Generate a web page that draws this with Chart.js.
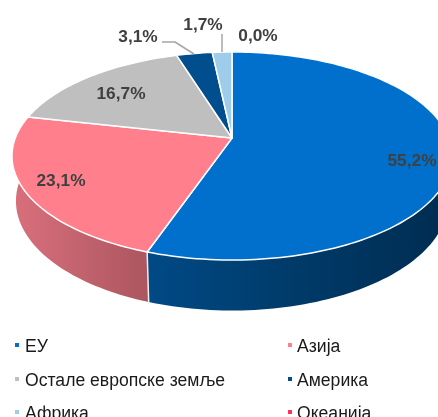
<!DOCTYPE html>
<html><head><meta charset="utf-8">
<script src="https://cdn.jsdelivr.net/npm/chart.js@4/dist/chart.umd.min.js"></script>
<style>
html,body{margin:0;padding:0;background:#fff;width:438px;height:417px;overflow:hidden}
#wrap{position:relative;width:438px;height:417px;overflow:hidden}
canvas{position:absolute;left:0;top:0}
.lg{position:absolute;font:17.6px "Liberation Sans",Arial,sans-serif;color:#1a1a1a;white-space:nowrap;line-height:20px}
.mk{position:absolute;width:4px;height:4px}
</style></head><body>
<div id="wrap"><canvas id="c" width="438" height="417"></canvas></div>
<script>
const categories=["ЕУ","Азија","Остале европске земље","Америка","Африка","Океанија"];
const values=[55.2,23.1,16.7,3.1,1.7,0.0];
const colors=["#0070CC","#FF808C","#BFBFBF","#004E8E","#9DCDEA","#FF3355"];
const sideFrom=["#004A86","#D9707C","#A0A0A0","#003A6A","#7AA8C4","#CC2844"];
const sideTo=["#002C50","#AC5660","#808080","#002C50","#7AA8C4","#CC2844"];
const labelText=["55,2%","23,1%","16,7%","3,1%","1,7%","0,0%"];
const labelPos=[[412,161],[61,181],[121,94],[138,37],[203,25],[258,36]];
const leaders=[[[162,42],[175,42],[194,54]],[[222,34],[222,52]]];
const legendPos=[[15,25,345],[288,297,345],[15,25,379],[288,297,379],[15,25,412],[288,297,412]];
const view={x0:232,y0:138,c:216.7,a:100.9,p:-0.173,topCy:156,topRy:104,botCy:201,botRy:109.5,botSx:0.982};

function proj(t){
  const u=Math.cos(t),v=Math.sin(t),w=1+view.p*v;
  return [view.x0+view.c*u/w, view.y0+view.a*v/w];
}
function projBottom(t){
  const p=proj(t);
  return [view.x0+(p[0]-view.x0)*view.botSx, view.botCy+(p[1]-view.topCy)*view.botRy/view.topRy];
}
const pie3d={id:'pie3d',
  beforeDatasetsDraw(chart){
    const ctx=chart.ctx,arcs=chart.getDatasetMeta(0).data;
    const steps=a=>Math.max(2,Math.ceil((a.endAngle-a.startAngle)*40));
    arcs.forEach((a,i)=>{
      if(a.endAngle-a.startAngle<1e-4)return;
      const n=steps(a);ctx.beginPath();
      let minX=1e9,maxX=-1e9;
      for(let k=0;k<=n;k++){const p=proj(a.startAngle+(a.endAngle-a.startAngle)*k/n);
        minX=Math.min(minX,p[0]);maxX=Math.max(maxX,p[0]);k?ctx.lineTo(p[0],p[1]):ctx.moveTo(p[0],p[1]);}
      for(let k=n;k>=0;k--){const p=projBottom(a.startAngle+(a.endAngle-a.startAngle)*k/n);ctx.lineTo(p[0],p[1]);}
      ctx.closePath();
      const g=ctx.createLinearGradient(minX,0,maxX,0);
      if(i===0){g.addColorStop(0,sideFrom[0]);g.addColorStop(0.5,'#003A68');g.addColorStop(1,sideTo[0]);}
      else{g.addColorStop(0,sideFrom[i]);g.addColorStop(1,sideTo[i]);}
      ctx.fillStyle=g;ctx.fill();
    });
    ctx.strokeStyle='#F0F0F0';ctx.lineWidth=1.5;
    arcs.forEach(a=>{
      const t=a.startAngle,v=Math.sin(t);
      if(v<=0.17)return;
      const p=proj(t),q=projBottom(t);
      ctx.beginPath();ctx.moveTo(p[0],p[1]);ctx.lineTo(q[0],q[1]);ctx.stroke();
    });
    arcs.forEach((a,i)=>{
      if(a.endAngle-a.startAngle<1e-4)return;
      const n=steps(a);ctx.beginPath();ctx.moveTo(view.x0,view.y0);
      for(let k=0;k<=n;k++){const p=proj(a.startAngle+(a.endAngle-a.startAngle)*k/n);ctx.lineTo(p[0],p[1]);}
      ctx.closePath();ctx.fillStyle=colors[i];ctx.fill();
      ctx.strokeStyle='#FFFFFF';ctx.lineWidth=1.5;ctx.lineJoin='round';ctx.stroke();
    });
    return false;
  },
  afterDraw(chart){
    const ctx=chart.ctx;
    ctx.save();
    ctx.strokeStyle='#A6A6A6';ctx.lineWidth=1.5;
    leaders.forEach(l=>{ctx.beginPath();l.forEach((p,i)=>i?ctx.lineTo(p[0],p[1]):ctx.moveTo(p[0],p[1]));ctx.stroke();});
    ctx.font='bold 17.3px "Liberation Sans",Arial,sans-serif';ctx.fillStyle='#404040';
    ctx.textAlign='center';ctx.textBaseline='middle';
    labelText.forEach((t,i)=>ctx.fillText(t,labelPos[i][0],labelPos[i][1]));
    ctx.restore();
  }
};
new Chart(document.getElementById('c'),{
  type:'pie',
  data:{labels:categories,datasets:[{data:values,backgroundColor:colors,borderWidth:0}]},
  options:{responsive:false,animation:false,events:[],
    plugins:{legend:{display:false},tooltip:{enabled:false}}},
  plugins:[pie3d]
});
const wrap=document.getElementById('wrap');
categories.forEach((n,i)=>{
  const [mx,tx,y]=legendPos[i];
  const m=document.createElement('div');m.className='mk';m.style.cssText=`left:${mx}px;top:${y-2}px;background:${colors[i]}`;
  const t=document.createElement('div');t.className='lg';t.textContent=n;t.style.left=tx+'px';t.style.top=(y-9)+'px';
  wrap.append(m,t);
});
</script></body></html>
